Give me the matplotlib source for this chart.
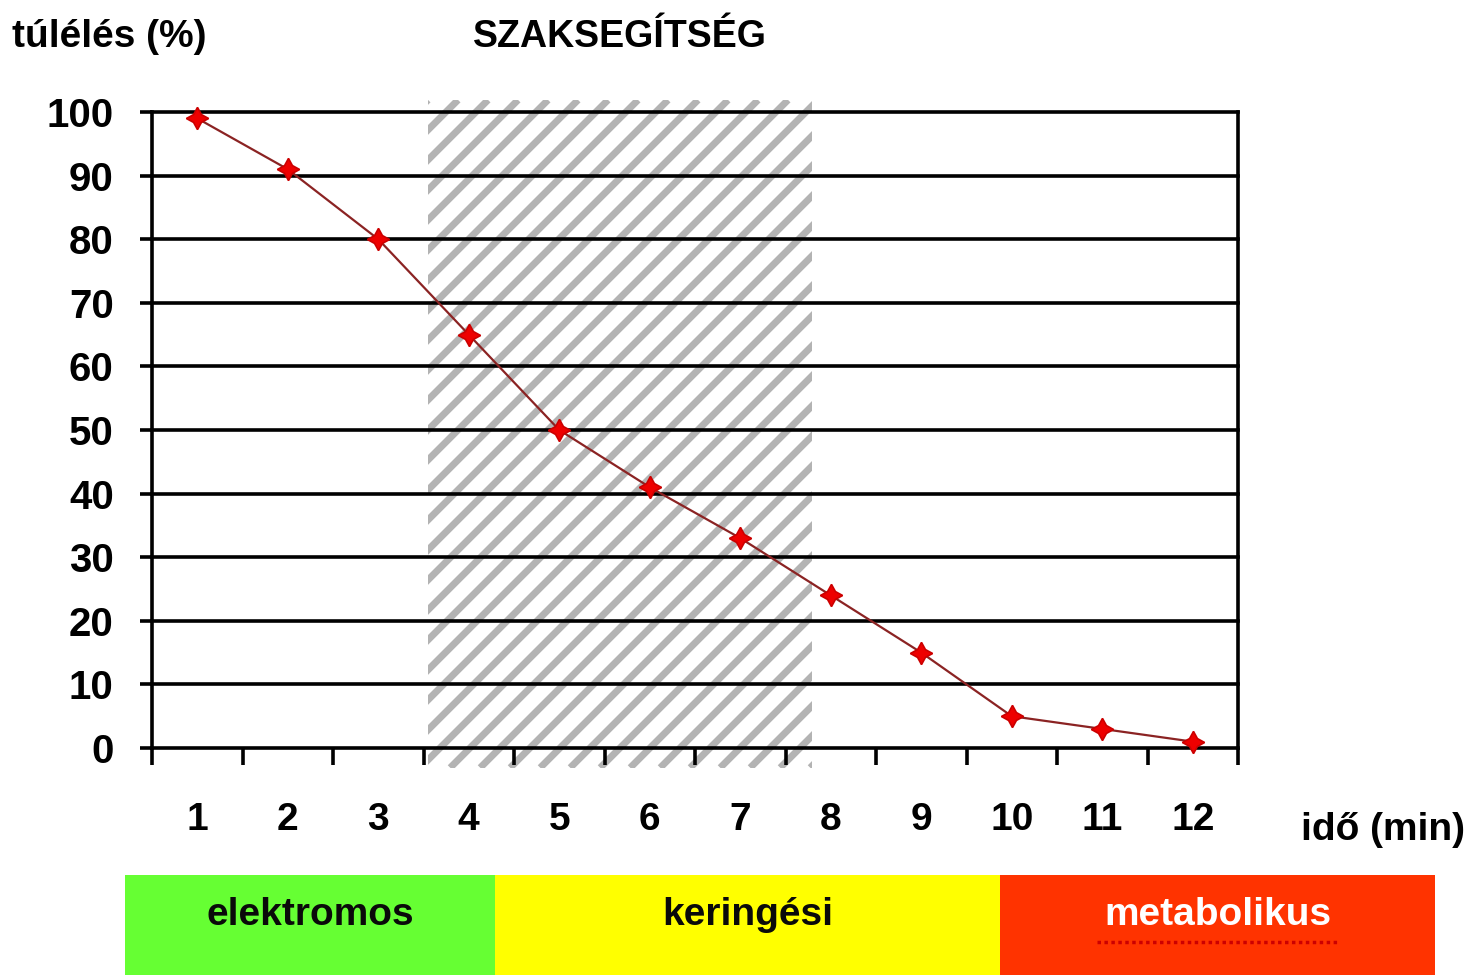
import matplotlib.pyplot as plt
import numpy as np
from matplotlib.patches import Rectangle

# túlélés (%) percenként
minutes = list(range(1, 13))
survival = [99, 91, 80, 65, 50, 41, 33, 24, 15, 5, 3, 1]
y_ticks = list(range(0, 101, 10))

# szaksegítség sáv (perc-tengelyen)
help_start = 3.55
help_end = 7.79

# fázisok az alsó sávban
phase_names = ["elektromos", "keringési", "metabolikus"]
phase_shares = [370, 505, 435]

phase_colors = ["#66ff33", "#ffff00", "#ff3300"]
phase_text_colors = ["#0a0a0a", "#0a0a0a", "#ffffff"]

plt.rcParams["font.family"] = ["Liberation Sans", "DejaVu Sans"]
plt.rcParams["font.weight"] = "bold"

W, H = 1480, 980
fig = plt.figure(figsize=(W / 100, H / 100), dpi=100)
ax = fig.add_axes([152 / W, 1 - 748 / H, (1238 - 152) / W, (748 - 112) / H])
ax.set_xlim(0.5, 12.5)
ax.set_ylim(0, 100)

# ferde csíkozás a szaksegítség sávban
sx = (1238 - 152) / 12.0   # px / perc
sy = (748 - 112) / 100.0   # px / %
y_bot, y_top = -3.1, 101.9
clip = Rectangle((help_start, y_bot), help_end - help_start, y_top - y_bot,
                 fill=False, lw=0, clip_on=False)
ax.add_patch(clip)
step = 30 / sx
run = (y_top - y_bot) * sy / sx
for xb in np.arange(help_start - run - step, help_end + step, step):
    ln, = ax.plot([xb, xb + run], [y_bot, y_top], color="#b3b3b3", lw=5.0,
                  solid_capstyle="butt", zorder=1)
    ln.set_clip_path(clip)

ax.yaxis.grid(True, color="black", lw=2.6)
ax.set_axisbelow("line")
for gl in ax.get_ygridlines():
    gl.set_clip_on(False)

ax.plot(minutes, survival, color="#8b2323", lw=1.6, zorder=3, clip_on=False,
        marker=(4, 1, 0), markersize=16, markerfacecolor="#ee0000",
        markeredgecolor="#cc0000", markeredgewidth=1.2)

for side in ["top", "bottom"]:
    ax.spines[side].set_visible(False)
for side in ["left", "right"]:
    ax.spines[side].set_linewidth(2.6)

ax.set_yticks(y_ticks)
ax.set_yticklabels([str(v) for v in y_ticks], fontsize=29, fontweight="bold")
ax.tick_params(axis="y", length=8.6, width=2.6, pad=19)

ax.set_xticks(np.arange(0.5, 13, 1))
ax.set_xticklabels([])
ax.tick_params(axis="x", which="major", length=12.2, width=2.6)
ax.set_xticks(minutes, minor=True)
ax.set_xticklabels([str(m) for m in minutes], minor=True, fontsize=28,
                   fontweight="bold")
ax.tick_params(axis="x", which="minor", length=0, pad=39)

ax.text((help_start + help_end) / 2, 1.118, "SZAKSEGÍTSÉG",
        transform=ax.get_xaxis_transform(), ha="center", va="center",
        fontsize=27, fontweight="bold")
fig.text(12 / W, 1 - 37 / H, "túlélés (%)", ha="left", va="center",
         fontsize=28, fontweight="bold")
fig.text(1465 / W, 1 - 830 / H, "idő (min)", ha="right", va="center",
         fontsize=28, fontweight="bold")

# alsó fázissáv
bx = fig.add_axes([125 / W, 1 - 975 / H, (1435 - 125) / W, 100 / H])
total = sum(phase_shares)
left = 0.0
for name, share, col, tcol in zip(phase_names, phase_shares, phase_colors,
                                  phase_text_colors):
    w = share / total
    bx.barh(0, w, left=left, height=1, color=col, edgecolor="none")
    bx.text(left + w / 2, 0.1, name, ha="center", va="center", fontsize=28,
            fontweight="bold", color=tcol)
    if tcol == "#ffffff":
        bx.plot([left + w / 2 - 0.092, left + w / 2 + 0.092], [-0.17, -0.17],
                color="#cc0000", lw=2.5, ls=(0, (1, 1)))
    left += w
bx.set_xlim(0, 1)
bx.set_ylim(-0.5, 0.5)
bx.axis("off")

fig.savefig("out.png", dpi=100)
